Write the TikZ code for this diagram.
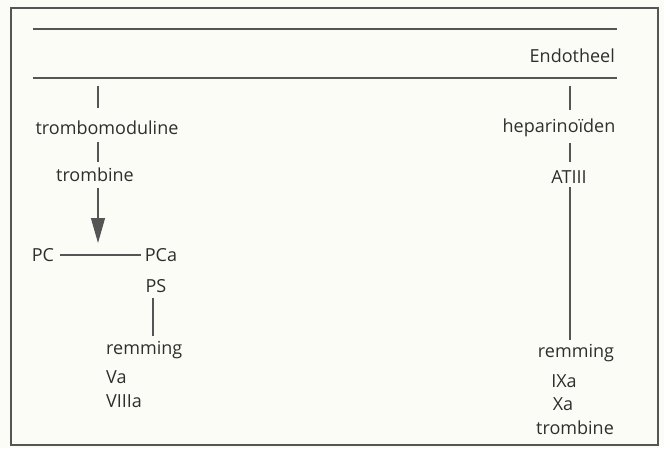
\documentclass[tikz,border=0pt]{standalone}
\usepackage{fontspec}
\setmainfont{Open Sans}
\usetikzlibrary{arrows.meta,calc}
\definecolor{ink}{HTML}{2E2E2E}
\definecolor{rule}{HTML}{555555}
\definecolor{paper}{HTML}{FCFCF7}
\begin{document}
\begin{tikzpicture}[x=1pt,y=-1pt,
  txt/.style={inner sep=0pt, text=ink, text height=13pt, text depth=0pt,
              font=\fontsize{18}{22}\selectfont},
  conn/.style={draw=rule, line width=1.2pt},
  frame/.style={draw=rule, line width=1.3pt}]
\fill[paper] (0,0) rectangle (664,448);
\useasboundingbox (0,0) rectangle (664,448);
\draw[frame] (11,8) rectangle (658,445);
% membrane lines
\coordinate (t1) at (33,29); \coordinate (t2) at (617,29);
\coordinate (b1) at (33,78); \coordinate (b2) at (617,78);
\draw[conn] (t1) -- (t2);
\draw[conn] (b1) -- (b2);
\node[txt, anchor=east] (endo) at (615,56) {Endotheel};
% left branch
\coordinate (xl) at (98,0);
\coordinate (xp) at (153,0);
\node[txt] (tm) at (107,128) {trombomoduline};
\node[txt] (tb) at (95,175) {trombine};
\node[txt] (pc) at (43,255) {PC};
\node[txt] (pca) at (161,255) {PCa};
\node[txt] (ps) at (156,286) {PS};
\node[txt, anchor=west] (rem1) at (106,348) {remming};
\node[txt, anchor=west] (va) at (106,377) {Va};
\node[txt, anchor=west] (v8) at (106,401) {VIIIa};
\coordinate (tip) at (98,243);
\draw[conn, shorten <=8pt, shorten >=13.5pt] (b1 -| xl) -- (tm.north -| xl);
\draw[conn, shorten <=7.5pt, shorten >=6.5pt] (tm.south -| xl) -- (tb.north -| xl);
\draw[conn, shorten <=6.5pt, -{Triangle[length=25pt,width=14pt]}] (tb.south -| xl) -- (tip);
\draw[conn, shorten <=6pt, shorten >=4pt] (pc.east) -- (pca.west);
\draw[conn, shorten <=5.5pt, shorten >=5.5pt] (ps.south -| xp) -- (rem1.north -| xp);
% right branch
\coordinate (xr) at (570,0);
\node[txt] (hep) at (559,126) {heparinoïden};
\node[txt] (at3) at (569,177) {ATIII};
\node[txt] (rem2) at (576,351) {remming};
\node[txt] (ix) at (564,381) {IXa};
\node[txt] (xa) at (563,404) {Xa};
\node[txt] (tb2) at (575,428) {trombine};
\draw[conn, shorten <=8pt, shorten >=9.5pt] (b1 -| xr) -- (hep.north -| xr);
\draw[conn, shorten <=10.5pt, shorten >=8.5pt] (hep.south -| xr) -- (at3.north -| xr);
\draw[conn, shorten <=3.5pt, shorten >=4.5pt] (at3.south -| xr) -- (rem2.north -| xr);
\end{tikzpicture}
\end{document}
